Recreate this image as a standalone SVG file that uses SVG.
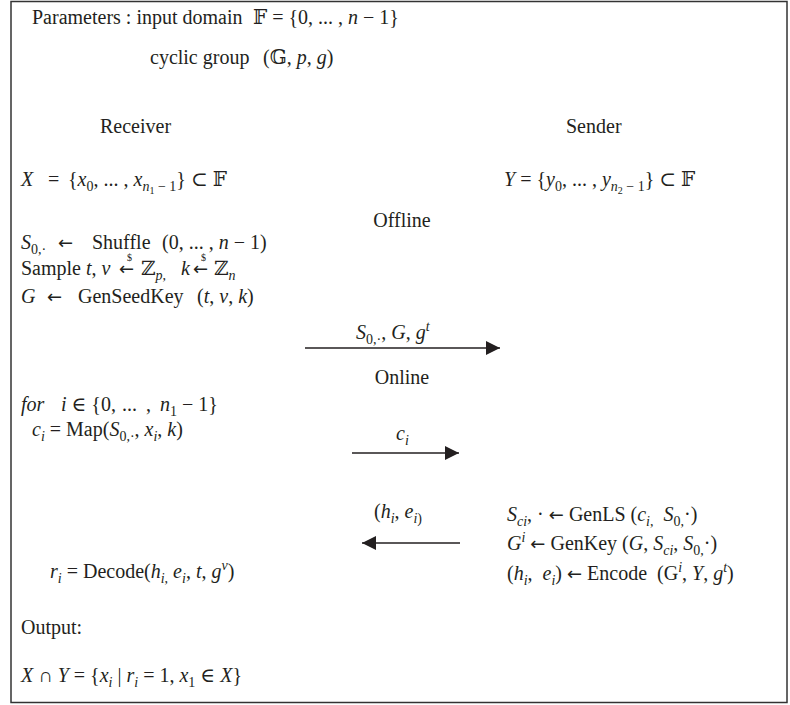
<svg xmlns="http://www.w3.org/2000/svg" width="790" height="705" viewBox="0 0 790 705">
<style>
.t{font-family:"Liberation Serif","DejaVu Serif",serif;font-size:20px;fill:#231f20}
.i{font-style:italic}
.s{font-size:14px}
.ss{font-size:10px}
.d{font-size:10px}
.ar{font-family:"DejaVu Sans",sans-serif;font-size:18px}
.m{text-anchor:middle}
.c{stroke:#231f20;stroke-width:1.6;fill:none}
</style>
<defs>
<marker id="ah" markerUnits="userSpaceOnUse" markerWidth="16" markerHeight="14" refX="14" refY="7" orient="auto">
<path d="M0,0 L14,7 L0,14 Z" fill="#231f20"/>
</marker>
</defs>
<rect x="11" y="1.5" width="776" height="701" fill="#fff" stroke="#333" stroke-width="1.5"/>

<g id="parameters">
<text class="t" x="32" y="24">Parameters : input domain</text>
<text class="t" x="253" y="24" xml:space="preserve">𝔽 = {0, ... , <tspan class="i">n</tspan> − 1}</text>
<text class="t" x="150" y="64">cyclic group</text>
<text class="t" x="263" y="64">(𝔾, <tspan class="i">p</tspan>, <tspan class="i">g</tspan>)</text>
</g>

<g id="receiver">
<text class="t" x="100" y="133">Receiver</text>
<text class="t" x="21" y="186"><tspan class="i">X</tspan></text>
<text class="t" x="48" y="186">=</text>
<text class="t" x="68" y="186">{<tspan class="i">x</tspan><tspan class="s" dy="5">0</tspan><tspan dy="-5">, ... , </tspan><tspan class="i">x</tspan><tspan class="s i" dy="5">n</tspan><tspan class="ss" dy="3">1</tspan><tspan class="s" dy="-3"> − 1</tspan><tspan dy="-5">} ⊂ 𝔽</tspan></text>
</g>

<g id="sender">
<text class="t" x="566" y="133">Sender</text>
<text class="t" x="504" y="186"><tspan class="i">Y</tspan> = {<tspan class="i">y</tspan><tspan class="s" dy="5">0</tspan><tspan dy="-5">, ... , </tspan><tspan class="i">y</tspan><tspan class="s i" dy="5">n</tspan><tspan class="ss" dy="3">2</tspan><tspan class="s" dy="-3"> − 1</tspan><tspan dy="-5">} ⊂ 𝔽</tspan></text>
</g>

<g id="offline">
<text class="t m" x="402" y="227">Offline</text>
<text class="t" x="21" y="249"><tspan class="i">S</tspan><tspan class="s" dy="5">0,·</tspan></text>
<text class="t ar" x="58" y="249">←</text>
<text class="t" x="92" y="249">Shuffle</text>
<text class="t" x="162" y="249">(0, ... , <tspan class="i">n</tspan> − 1)</text>
<text class="t" x="21" y="275">Sample <tspan class="i">t</tspan>, <tspan class="i">v</tspan><tspan class="ar" x="119">←</tspan><tspan class="d" x="127" dy="-14">$</tspan><tspan x="141" dy="14">ℤ</tspan><tspan class="s i" dy="5">p</tspan><tspan class="s">,</tspan><tspan class="i" x="181" dy="-5">k</tspan><tspan class="ar" x="193">←</tspan><tspan class="d" x="201" dy="-14">$</tspan><tspan x="214" dy="14">ℤ</tspan><tspan class="s i" dy="5">n</tspan></text>
<text class="t" x="21" y="303"><tspan class="i">G</tspan></text>
<text class="t ar" x="47" y="303">←</text>
<text class="t" x="78" y="303">GenSeedKey</text>
<text class="t" x="197" y="303">(<tspan class="i">t</tspan>, <tspan class="i">v</tspan>, <tspan class="i">k</tspan>)</text>
</g>

<g id="online">
<text class="t m" x="402" y="384">Online</text>
<text class="t" x="21" y="411"><tspan class="i">for</tspan></text>
<text class="t" x="61" y="411"><tspan class="i">i</tspan> ∈ {0,</text>
<text class="t" x="122" y="411">...</text>
<text class="t" x="146" y="411">,</text>
<text class="t" x="160" y="411"><tspan class="i">n</tspan><tspan class="s" dy="5">1</tspan><tspan dy="-5"> − 1}</tspan></text>
<text class="t" x="32" y="436"><tspan class="i">c</tspan><tspan class="s i" dy="5">i</tspan><tspan dy="-5"> = Map(</tspan><tspan class="i">S</tspan><tspan class="s" dy="5">0,·</tspan><tspan dy="-5">, </tspan><tspan class="i">x</tspan><tspan class="s i" dy="5">i</tspan><tspan dy="-5">, </tspan><tspan class="i">k</tspan>)</text>
</g>

<g id="sender-online">
<text class="t" x="507" y="521" xml:space="preserve"><tspan class="i">S</tspan><tspan class="s i" dy="5">ci</tspan><tspan dy="-5">, · </tspan><tspan class="ar">←</tspan><tspan> GenLS (</tspan><tspan class="i">c</tspan><tspan class="s" dy="5"><tspan class="i">i</tspan>,</tspan><tspan dy="-5">  </tspan><tspan class="i">S</tspan><tspan class="s" dy="5">0,</tspan><tspan dy="-5">·)</tspan></text>
<text class="t" x="507" y="550" xml:space="preserve"><tspan class="i">G</tspan><tspan class="s i" dy="-8">i</tspan><tspan dy="8"> </tspan><tspan class="ar">←</tspan><tspan> GenKey (</tspan><tspan class="i">G</tspan>, <tspan class="i">S</tspan><tspan class="s i" dy="5">ci</tspan><tspan dy="-5">, </tspan><tspan class="i">S</tspan><tspan class="s" dy="5">0,</tspan><tspan dy="-5">·)</tspan></text>
<text class="t" x="507" y="580" xml:space="preserve">(<tspan class="i">h</tspan><tspan class="s i" dy="5">i</tspan><tspan dy="-5">,  </tspan><tspan class="i">e</tspan><tspan class="s i" dy="5">i</tspan><tspan dy="-5">) </tspan><tspan class="ar">←</tspan><tspan> Encode  (G</tspan><tspan class="s i" dy="-8">i</tspan><tspan dy="8">, </tspan><tspan class="i">Y</tspan>, <tspan class="i">g</tspan><tspan class="s i" dy="-8">t</tspan><tspan dy="8">)</tspan></text>
</g>

<g id="decode">
<text class="t" x="50" y="578" xml:space="preserve"><tspan class="i">r</tspan><tspan class="s i" dy="5">i</tspan><tspan dy="-5"> = Decode(</tspan><tspan class="i">h</tspan><tspan class="s" dy="5"><tspan class="i">i</tspan>,</tspan><tspan dy="-5"> </tspan><tspan class="i">e</tspan><tspan class="s i" dy="5">i</tspan><tspan dy="-5">, </tspan><tspan class="i">t</tspan>, <tspan class="i">g</tspan><tspan class="s i" dy="-8">v</tspan><tspan dy="8">)</tspan></text>
</g>

<g id="output">
<text class="t" x="21" y="634">Output:</text>
<text class="t" x="21" y="682" xml:space="preserve"><tspan class="i">X</tspan> ∩ <tspan class="i">Y</tspan> = {<tspan class="i">x</tspan><tspan class="s i" dy="5">i</tspan><tspan dy="-5"> | </tspan><tspan class="i">r</tspan><tspan class="s i" dy="5">i</tspan><tspan dy="-5"> = 1, </tspan><tspan class="i">x</tspan><tspan class="s" dy="5">1</tspan><tspan dy="-5"> ∈ </tspan><tspan class="i">X</tspan>}</text>
</g>

<g id="connectors">
<line class="c" x1="305" y1="348" x2="500" y2="348" marker-end="url(#ah)"/>
<text class="t" x="356" y="339"><tspan class="i">S</tspan><tspan class="s" dy="5">0,·</tspan><tspan dy="-5">, </tspan><tspan class="i">G</tspan>, <tspan class="i">g</tspan><tspan class="s i" dy="-8">t</tspan></text>
<line class="c" x1="352" y1="453" x2="459" y2="453" marker-end="url(#ah)"/>
<text class="t" x="396" y="440"><tspan class="i">c</tspan><tspan class="s i" dy="5">i</tspan></text>
<line class="c" x1="460" y1="543" x2="362" y2="543" marker-end="url(#ah)"/>
<text class="t" x="374" y="518">(<tspan class="i">h</tspan><tspan class="s i" dy="5">i</tspan><tspan dy="-5">, </tspan><tspan class="i">e</tspan><tspan class="s" dy="5"><tspan class="i">i</tspan>)</tspan></text>
</g>
</svg>
